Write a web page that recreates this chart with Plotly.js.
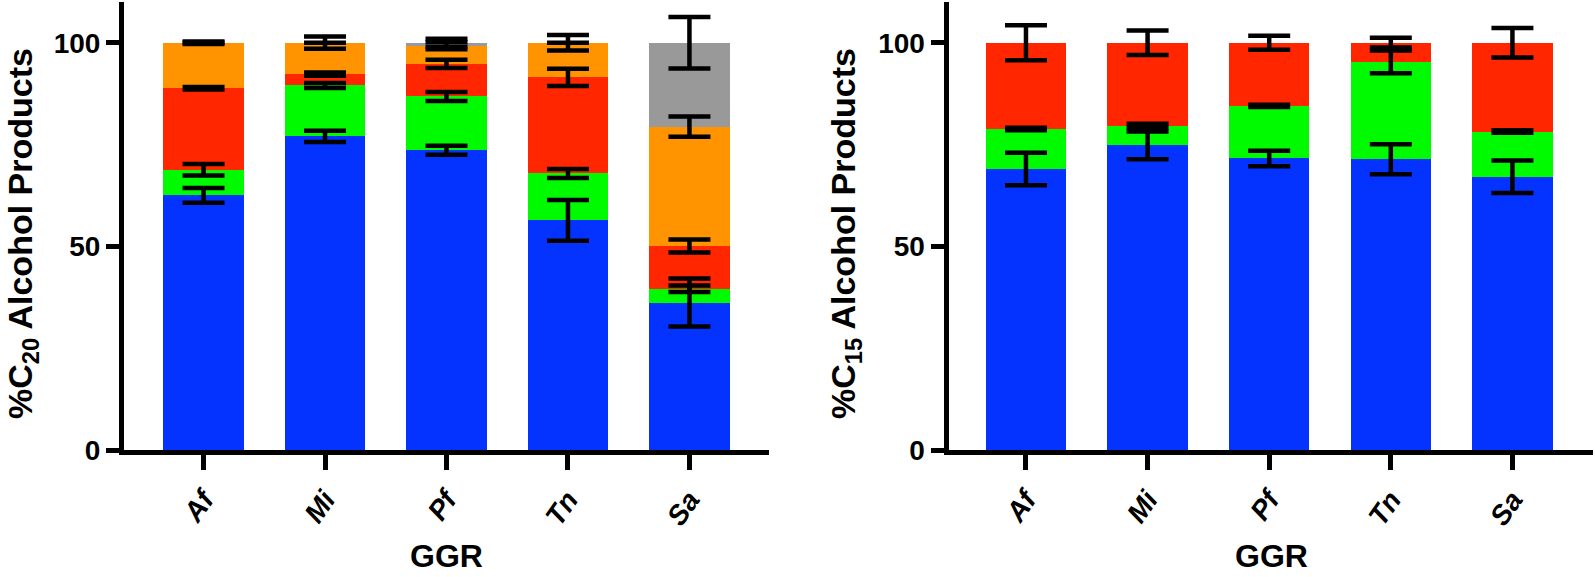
<!DOCTYPE html>
<html>
<head>
<meta charset="utf-8">
<script src="https://cdn.plot.ly/plotly-3.0.1.min.js"></script>
<style>
html,body{margin:0;padding:0;background:#fff;}
#chart{width:1595px;height:577px;}
</style>
</head>
<body>
<div id="chart"></div>
<script>
// ---------- data ----------
const categories = ["Af", "Mi", "Pf", "Tn", "Sa"];

// Left panel: %C20 alcohol products (segment values, bottom to top)
const c20Blue   = [62.5, 77.0, 73.6, 56.4, 36.2];
const c20Green  = [6.3, 12.5, 13.2, 11.5, 3.4];
const c20Red    = [20.0, 2.8, 8.0, 23.6, 10.5];
const c20Orange = [11.2, 7.7, 4.5, 8.5, 29.3];
const c20Gray   = [0, 0, 0.7, 0, 20.6];
const c20BlueErr   = [1.8, 1.4, 1.1, 5.0, 5.9];
const c20GreenErr  = [1.4, 0.6, 1.1, 1.1, 0.8];
const c20RedErr    = [0.3, 0.4, 1.0, 2.1, 1.6];
const c20OrangeErr = [0.3, 1.5, 0.9, 1.9, 2.5];
const c20GrayErr   = [null, null, 1.0, null, 6.3];

// Right panel: %C15 alcohol products
const c15Blue  = [69.0, 74.8, 71.6, 71.4, 67.1];
const c15Green = [9.8, 4.8, 12.9, 23.9, 11.1];
const c15Red   = [21.2, 20.4, 15.5, 4.7, 21.8];
const c15BlueErr  = [4.0, 3.4, 1.9, 3.7, 4.0];
const c15GreenErr = [0.3, 0.5, 0.3, 2.8, 0.3];
const c15RedErr   = [4.3, 3.0, 1.7, 1.2, 3.6];

const yTicks = [0, 50, 100];
const yTickText = ["0", "50", "100"];
const xTitle = "GGR";
const leftYTitle = "%C<sub>20</sub> Alcohol Products";
const rightYTitle = "%C<sub>15</sub> Alcohol Products";

// ---------- styling ----------
const colors = {blue: "#0432ff", green: "#00fa00", red: "#ff2600", orange: "#ff9300", gray: "#999999"};
const FONT = "Liberation Sans, Arial, Helvetica, sans-serif";
const BAR_W = 0.66;

function barTrace(vals, color, xa, ya) {
  return {type: "bar", x: categories, y: vals, width: BAR_W, xaxis: xa, yaxis: ya,
          marker: {color: color, line: {width: 0}}, hoverinfo: "skip", showlegend: false};
}
function cumulative(list) {
  const out = []; let run = categories.map(() => 0);
  list.forEach(v => { run = run.map((r, i) => r + v[i]); out.push(run.slice()); });
  return out;
}
function errTrace(tops, errs, xa, ya) {
  return {type: "scatter", mode: "markers", x: categories, y: tops, xaxis: xa, yaxis: ya,
          marker: {size: 1, opacity: 0}, hoverinfo: "skip", showlegend: false,
          error_y: {type: "data", array: errs, visible: true, color: "#000", thickness: 4.5, width: 21}};
}

const leftSegs = [c20Blue, c20Green, c20Red, c20Orange, c20Gray];
const leftCols = [colors.blue, colors.green, colors.red, colors.orange, colors.gray];
const leftErrs = [c20BlueErr, c20GreenErr, c20RedErr, c20OrangeErr, c20GrayErr];
const rightSegs = [c15Blue, c15Green, c15Red];
const rightCols = [colors.blue, colors.green, colors.red];
const rightErrs = [c15BlueErr, c15GreenErr, c15RedErr];

const traces = [];
leftSegs.forEach((s, i) => traces.push(barTrace(s, leftCols[i], "x", "y")));
rightSegs.forEach((s, i) => traces.push(barTrace(s, rightCols[i], "x2", "y2")));
const leftTops = cumulative(leftSegs);
const rightTops = cumulative(rightSegs);
leftTops.forEach((t, i) => traces.push(errTrace(t, leftErrs[i], "x", "y")));
rightTops.forEach((t, i) => traces.push(errTrace(t, rightErrs[i], "x2", "y2")));

const W = 1595, H = 577;
const yDom = [(H - 450) / H, (H - 2) / H];

function xAxis(domain, range, anchor) {
  return {domain: domain, range: range, anchor: anchor, type: "category", categoryarray: categories,
          showline: true, linewidth: 5, linecolor: "#000", ticks: "outside", ticklen: 15, tickwidth: 5,
          tickcolor: "#000", tickangle: -55, showgrid: false, zeroline: false, fixedrange: true,
          ticklabelstandoff: 2,
          tickfont: {family: FONT, size: 28, color: "#000", weight: "bold", style: "italic"}};
}
function yAxis(anchor) {
  return {domain: yDom, range: [0, 110], anchor: anchor, tickmode: "array", tickvals: yTicks, ticktext: yTickText,
          showline: true, linewidth: 5, linecolor: "#000", ticks: "outside", ticklen: 13, tickwidth: 5,
          tickcolor: "#000", showgrid: false, zeroline: false, fixedrange: true,
          tickfont: {family: FONT, size: 28, color: "#000", weight: "bold"}};
}

const titleFont = {family: FONT, size: 34, color: "#000", weight: "bold"};
const xTitleFont = {family: FONT, size: 32, color: "#000", weight: "bold"};
const layout = {
  width: W, height: H, margin: {l: 0, r: 0, t: 0, b: 0},
  paper_bgcolor: "#fff", plot_bgcolor: "#fff", barmode: "stack", showlegend: false,
  xaxis: xAxis([124 / W, 769 / W], [-0.655, 4.655], "y"),
  yaxis: yAxis("x"),
  xaxis2: xAxis([948.5 / W, 1593.3 / W], [-0.637, 4.665], "y2"),
  yaxis2: yAxis("x2"),
  annotations: [
    {text: leftYTitle, xref: "paper", yref: "paper", x: 22 / W, y: (H - 234) / H, textangle: -90,
     showarrow: false, font: titleFont, xanchor: "center", yanchor: "middle"},
    {text: rightYTitle, xref: "paper", yref: "paper", x: 845 / W, y: (H - 234) / H, textangle: -90,
     showarrow: false, font: titleFont, xanchor: "center", yanchor: "middle"},
    {text: xTitle, xref: "paper", yref: "paper", x: 446.5 / W, y: (H - 556) / H,
     showarrow: false, font: xTitleFont, xanchor: "center", yanchor: "middle"},
    {text: xTitle, xref: "paper", yref: "paper", x: 1271 / W, y: (H - 556) / H,
     showarrow: false, font: xTitleFont, xanchor: "center", yanchor: "middle"}
  ]
};

Plotly.newPlot("chart", traces, layout, {staticPlot: true, displayModeBar: false});
</script>
</body>
</html>
